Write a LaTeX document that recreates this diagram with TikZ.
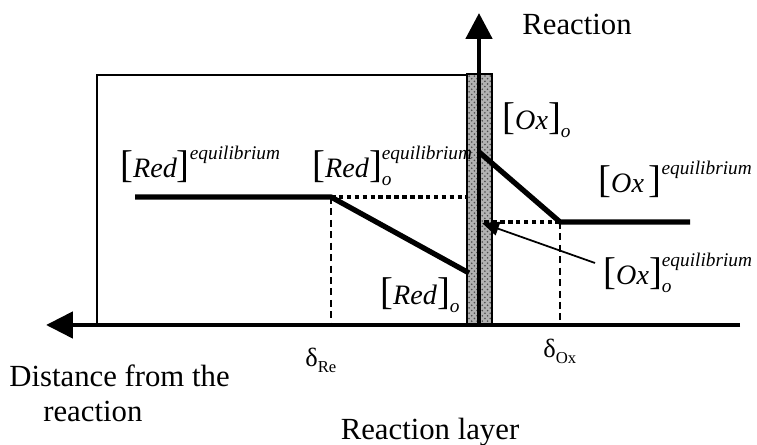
\documentclass[tikz,border=0pt]{standalone}
\usepackage{fontspec}
\setmainfont{Liberation Serif}
\usetikzlibrary{arrows.meta,patterns}
\newcommand{\bigbr}[1]{{\fontsize{22}{22}\selectfont #1}}
\newcommand{\supsub}[2]{\rlap{\raisebox{10.5pt}{\fontsize{11}{11}\selectfont\itshape #2}}\raisebox{-4pt}{\fontsize{11}{11}\selectfont\itshape #1}}
\newcommand{\conc}[3]{\bigbr{[}\textit{#1}\bigbr{]}\supsub{#2}{#3}}
\tikzset{
  lbl/.style={anchor=base west,inner sep=0pt,font=\fontsize{16}{19}\selectfont},
  txt/.style={anchor=base west,inner sep=0pt,font=\fontsize{17.5}{21}\selectfont},
  axis/.style={line width=2.8pt},
  prof/.style={line width=3pt},
  dots/.style={line width=2.6pt,dash pattern=on 2.6pt off 1.9pt},
  guide/.style={line width=0.8pt,dash pattern=on 4pt off 2.5pt}
}
\begin{document}
\begin{tikzpicture}[x=0.02cm,y=0.02cm]
\useasboundingbox (0,0) rectangle (757,445);
% points of the profiles
\coordinate (redL) at (135,248);
\coordinate (redK) at (331,248);
\coordinate (redO) at (469,172);
\coordinate (redW) at (467,248);
\coordinate (oxO) at (479,293);
\coordinate (oxK) at (560,223);
\coordinate (oxR) at (690,223);
\coordinate (oxW) at (484,223);
\coordinate (redB) at (331,120);
\coordinate (oxB) at (560,120);
\coordinate (axR) at (740,120);
\coordinate (axL) at (46,120);
\coordinate (axT) at (479,432);
\coordinate (axO) at (479,120);
% box and reaction layer
\draw[line width=1.1pt] (467,370) -- (97,370) -- (97,120);
\fill[gray!60] (467,120) rectangle (492,371);
\fill[pattern=crosshatch dots,pattern color=black!70] (467,120) rectangle (492,371);
\draw[line width=0.6pt] (467,120) rectangle (492,371);
% axes
\draw[axis,-{Triangle[length=0.54cm,width=0.52cm]}] (axR) -- (axL);
\draw[axis,-{Triangle[length=0.52cm,width=0.52cm]}] (axO) -- (axT);
% guides
\draw[guide] (redK) -- (redB);
\draw[guide] (oxK) -- (oxB);
\draw[dots] (redK) -- (redW);
\draw[dots] (oxK) -- (oxW);
% profiles
\draw[prof,line join=round] (redL) -- (redK) -- (redO);
\draw[prof,line join=round] (oxO) -- (oxK) -- (oxR);
% labels
\node[lbl] (redeq) at (120,267) {\conc{Red}{}{equilibrium}};
\node[lbl] (redoeq) at (312,267) {\conc{Red}{o}{equilibrium}};
\node[lbl] (redo) at (380,140) {\conc{Red}{o}{}};
\node[lbl] (oxo) at (502,315) {\conc{Ox}{o}{}};
\node[lbl] (oxeq) at (598,252) {\conc{Ox\,}{}{equilibrium}};
\node[lbl] (oxoeq) at (603,160) {\conc{Ox}{o}{equilibrium}};
\coordinate (oxoeqP) at (595,182);
\draw[line width=1pt,-{Triangle[length=0.34cm,width=0.28cm]}] (oxoeqP) -- (482,222);
\node[txt] (react) at (522,410) {Reaction};
\node[txt] (distA) at (9,58) {Distance from the};
\node[txt] (distB) at (43,23) {reaction};
\node[txt,anchor=base] (layer) at (430,5) {Reaction layer};
\node[txt,font=\fontsize{15}{18}\selectfont] (dre) at (305,78) {δ\raisebox{-3pt}{\fontsize{9.5}{10}\selectfont Re}};
\node[txt,font=\fontsize{15}{18}\selectfont] (dox) at (543,87) {δ\raisebox{-3pt}{\fontsize{9.5}{10}\selectfont Ox}};
\end{tikzpicture}
\end{document}
